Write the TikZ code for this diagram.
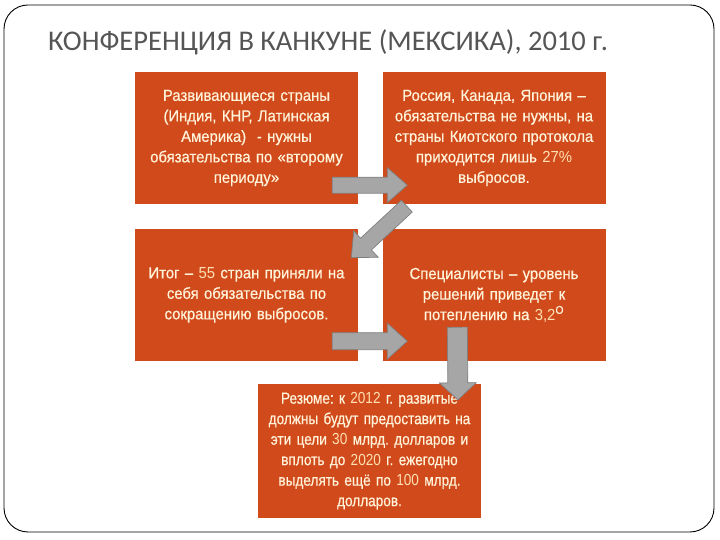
\documentclass[tikz,border=0pt]{standalone}
\usepackage{fontspec}
\setmainfont{Liberation Sans}
\newfontfamily\boxfont[FakeStretch=0.93,FakeBold=0.6]{Liberation Sans}
\newfontfamily\boxfontn[FakeStretch=0.85,FakeBold=0.6]{Liberation Sans}
\newfontfamily\numfont[FakeStretch=0.93]{Liberation Sans}
\newfontfamily\numfontn[FakeStretch=0.85]{Liberation Sans}
\newfontfamily\titlefont{Carlito}
\usetikzlibrary{calc}
\frenchspacing
\definecolor{boxred}{HTML}{D14A1C}
\definecolor{boxtext}{HTML}{FFF3D9}
\definecolor{numtext}{HTML}{FFE0B0}
\definecolor{arrowgray}{HTML}{A6A6A6}
\definecolor{arrowline}{HTML}{7F7F7F}
\definecolor{titlegray}{HTML}{555555}
\newcommand\nm[1]{{\numfont\color{numtext}#1}}
\newcommand\nmn[1]{{\numfontn\color{numtext}#1}}
\newcommand\blockarrow[5]{%
  \draw[blk] let \p1=(#1), \p2=(#2),
    \n1={atan2(\y2-\y1,\x2-\x1)}, \n2={veclen(\x2-\x1,\y2-\y1)} in
    [shift={(\p1)}, rotate=\n1]
    (0pt,-#3pt) -- ({(\n2-#5)*1pt},-#3pt) -- ({(\n2-#5)*1pt},-#4pt)
    -- ({\n2*1pt},0pt) -- ({(\n2-#5)*1pt},#4pt) -- ({(\n2-#5)*1pt},#3pt)
    -- (0pt,#3pt) -- cycle;}
\begin{document}
\frenchspacing
\begin{tikzpicture}[x=1pt,y=1pt,
  card/.style={fill=boxred, minimum width=223pt, minimum height=132pt,
    inner sep=0pt, text width=222pt, align=center, text=boxtext,
    font=\boxfont\fontsize{16}{20.5}\selectfont\frenchspacing},
  blk/.style={fill=arrowgray, draw=arrowline, line width=0.7pt, line join=miter}]
\useasboundingbox (0,0) rectangle (720,540);
\draw[line width=0.9pt, rounded corners=24pt] (4,8) rectangle (714,535);
\node[anchor=base west, inner sep=0pt, text=titlegray,
  font=\titlefont\fontsize{28.5}{30}\selectfont] (title) at (48,489)
  {КОНФЕРЕНЦИЯ В КАНКУНЕ (МЕКСИКА), 2010 г.};
\node[card] (b1) at (246.5,402) {Развивающиеся страны\\(Индия, КНР, Латинская\\Америка) \ - нужны\\обязательства по «второму\\периоду»};
\node[card] (b2) at (494,402) {Россия, Канада, Япония –\\обязательства не нужны, на\\страны Киотского протокола\\приходится лишь \nm{27\%}\\выбросов.};
\node[card] (b3) at (246.5,245) {Итог – \nm{55} стран приняли на\\себя обязательства по\\сокращению выбросов.};
\node[card] (b4) at (494,245) {Специалисты – уровень\\решений приведет к\\потеплению на \nm{3,2}\textsuperscript{O}};
\node[card, minimum height=134pt, font=\boxfontn\fontsize{16}{20.5}\selectfont\frenchspacing] (b5) at (369.5,89) {Резюме: к \nmn{2012} г. развитые\\должны будут предоставить на\\эти цели \nmn{30} млрд. долларов и\\вплоть до \nmn{2020} г. ежегодно\\выделять ещё по \nmn{100} млрд.\\долларов.};
\coordinate (a1s) at ($(b1.south east)+(-26,19)$);
\coordinate (a1e) at ($(b2.south west)+(25,19)$);
\coordinate (a2s) at ($(b2.south west)+(24.5,-2)$);
\coordinate (a2e) at ($(b3.north east)+(-7,-29)$);
\coordinate (a3s) at ($(b3.south east)+(-26,20)$);
\coordinate (a3e) at ($(b4.south west)+(25,20)$);
\coordinate (a4s) at ($(b4.south west)+(75,34)$);
\coordinate (a4e) at ($(b5.north)+(88.5,-16)$);
\blockarrow{a1s}{a1e}{8}{17.5}{20}
\blockarrow{a2s}{a2e}{8}{18}{20}
\blockarrow{a3s}{a3e}{8.5}{18}{20}
\blockarrow{a4s}{a4e}{10}{18.5}{17}
\end{tikzpicture}
\end{document}
